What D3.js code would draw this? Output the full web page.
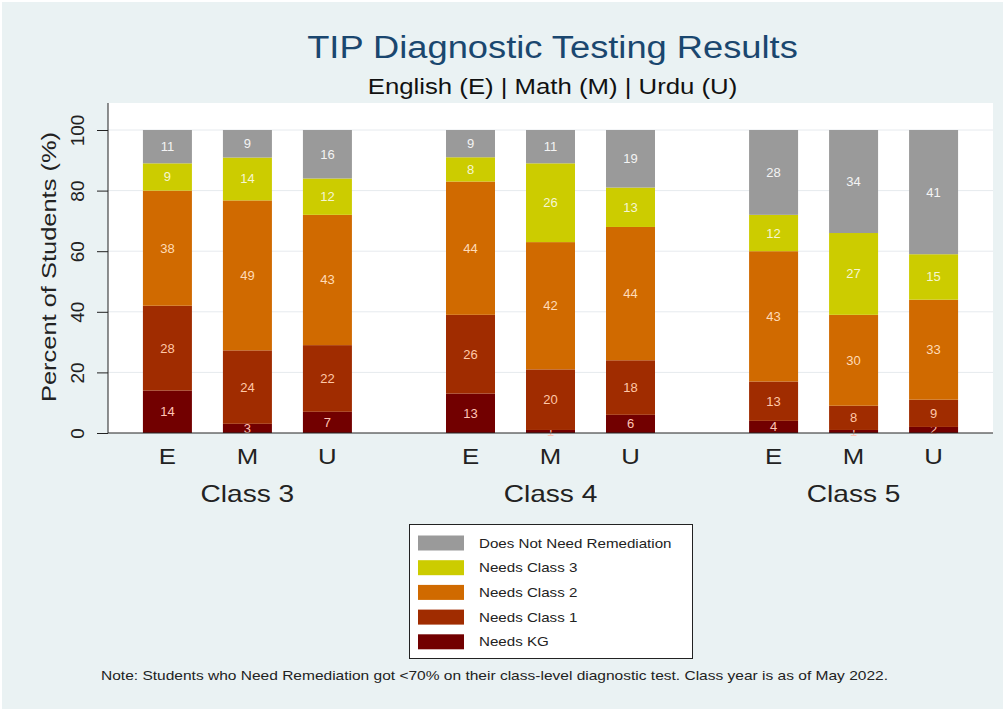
<!DOCTYPE html>
<html><head><meta charset="utf-8">
<script src="https://cdn.jsdelivr.net/npm/d3@7"></script>
<style>html,body{margin:0;padding:0;background:#fff;}svg{display:block;font-family:"Liberation Sans",Arial,sans-serif;}</style>
</head><body>
<script>
const classes = ["Class 3", "Class 4", "Class 5"];
const subjects = ["E", "M", "U"];
const seriesNames = ["Needs KG", "Needs Class 1", "Needs Class 2", "Needs Class 3", "Does Not Need Remediation"];
const seriesColors = ["#720000", "#a02c00", "#d06a00", "#cccc00", "#9a9a9a"];
const labelColors = ["#ffc4b4", "#ffc8a8", "#ffdcb8", "#f6f6d2", "#f4f4f4"];
// values per bar, in order Class3 E,M,U; Class4 E,M,U; Class5 E,M,U
const needsKG      = [14, 3, 7, 13, 1, 6, 4, 1, 2];
const needsClass1  = [28, 24, 22, 26, 20, 18, 13, 8, 9];
const needsClass2  = [38, 49, 43, 44, 42, 44, 43, 30, 33];
const needsClass3  = [9, 14, 12, 8, 26, 13, 12, 27, 15];
const doesNotNeed  = [11, 9, 16, 9, 11, 19, 28, 34, 41];
const yTicks = [0, 20, 40, 60, 80, 100];

const W = 1005, H = 711;
const plot = {left: 108, right: 993, top: 103, bottom: 433};
const STRETCH = 1.17;

function stretch(sel, f) {
  sel.each(function() {
    const len = this.getComputedTextLength();
    d3.select(this).attr("textLength", len * f).attr("lengthAdjust", "spacingAndGlyphs");
  });
}

const rows = [];
classes.forEach((c, ci) => subjects.forEach((s, si) => {
  const i = ci * 3 + si;
  rows.push({cls: c, subj: s, "Needs KG": needsKG[i], "Needs Class 1": needsClass1[i],
    "Needs Class 2": needsClass2[i], "Needs Class 3": needsClass3[i],
    "Does Not Need Remediation": doesNotNeed[i]});
}));
const stacked = d3.stack().keys(seriesNames).offset(d3.stackOffsetExpand)(rows);

const svg = d3.select("body").append("svg").attr("width", W).attr("height", H);
svg.append("rect").attr("width", W).attr("height", H).attr("fill", "#ffffff");
svg.append("rect").attr("x", 2).attr("y", 2).attr("width", W - 4).attr("height", H - 4).attr("fill", "#eaf2f3");
svg.append("rect").attr("x", plot.left).attr("y", plot.top).attr("width", plot.right - plot.left)
  .attr("height", plot.bottom - plot.top).attr("fill", "#ffffff");

const y = d3.scaleLinear().domain([0, 100]).range([plot.bottom, 130]);
const xClass = d3.scalePoint().domain(classes).range([plot.left, plot.right]).padding(0.46);
const xSub = d3.scalePoint().domain(subjects).range([-80, 80]);
const barW = 49;

// grid
svg.append("g").selectAll("line").data(yTicks.slice(1)).join("line")
  .attr("x1", plot.left).attr("x2", plot.right).attr("y1", d => y(d)).attr("y2", d => y(d))
  .attr("stroke", "#e6eaee").attr("stroke-width", 1);

// bars
const xc = d => xClass(d.data.cls) + xSub(d.data.subj);
stacked.forEach((layer, li) => {
  const g = svg.append("g");
  g.selectAll("rect").data(layer).join("rect")
    .attr("x", d => xc(d) - barW / 2).attr("width", barW)
    .attr("y", d => y(d[1] * 100)).attr("height", d => y(d[0] * 100) - y(d[1] * 100))
    .attr("fill", seriesColors[li]);
  g.selectAll("text").data(layer).join("text")
    .attr("x", d => xc(d)).attr("y", d => (y(d[0] * 100) + y(d[1] * 100)) / 2)
    .attr("text-anchor", "middle").attr("dominant-baseline", "central")
    .attr("font-size", 13).attr("fill", labelColors[li])
    .text(d => d.data[layer.key]);
});

// y axis
const yAxis = svg.append("g").attr("transform", `translate(${plot.left},0)`)
  .call(d3.axisLeft(y).tickValues(yTicks).tickSize(11).tickPadding(10).tickFormat(d3.format("d")));
yAxis.select(".domain").attr("d", `M0,${plot.top}V${plot.bottom}`).attr("stroke", "#222");
yAxis.selectAll(".tick line").attr("stroke", "#222");
yAxis.selectAll(".tick text").attr("font-size", 19).attr("fill", "#222")
  .attr("font-family", "Liberation Sans, Arial, sans-serif")
  .attr("x", 0).attr("y", 0).attr("dy", null).attr("text-anchor", "middle")
  .attr("transform", "translate(-24,0) rotate(-90)");

svg.append("text").attr("transform", `translate(56,${267}) rotate(-90)`)
  .attr("text-anchor", "middle").attr("font-size", 21).attr("fill", "#222")
  .attr("textLength", 270).attr("lengthAdjust", "spacingAndGlyphs")
  .text("Percent of Students (%)");

// x axis
svg.append("line").attr("x1", plot.left).attr("x2", plot.right).attr("y1", plot.bottom).attr("y2", plot.bottom)
  .attr("stroke", "#222");
classes.forEach(c => {
  subjects.forEach(s => {
    svg.append("text").attr("class", "st").attr("x", xClass(c) + xSub(s)).attr("y", 464)
      .attr("text-anchor", "middle").attr("font-size", 22).attr("fill", "#222").text(s);
  });
  svg.append("text").attr("class", "st").attr("x", xClass(c)).attr("y", 502)
    .attr("text-anchor", "middle").attr("font-size", 24).attr("fill", "#222").text(c);
});

// titles
const cx = (plot.left + plot.right) / 2;
svg.append("text").attr("class", "st").attr("x", cx + 2).attr("y", 58).attr("text-anchor", "middle")
  .attr("font-size", 31).attr("fill", "#1a476f").text("TIP Diagnostic Testing Results");
svg.append("text").attr("class", "st").attr("x", cx + 2).attr("y", 94).attr("text-anchor", "middle")
  .attr("font-size", 22).attr("fill", "#111").text("English (E) | Math (M) | Urdu (U)");

// legend
const leg = svg.append("g");
leg.append("rect").attr("x", 409.5).attr("y", 524.5).attr("width", 283).attr("height", 134)
  .attr("fill", "#ffffff").attr("stroke", "#222");
const legOrder = seriesNames.slice().reverse();
legOrder.forEach((name, i) => {
  const idx = seriesNames.indexOf(name);
  const cy = 543 + i * 24.7;
  leg.append("rect").attr("x", 418).attr("y", cy - 7.5).attr("width", 46).attr("height", 15)
    .attr("fill", seriesColors[idx]);
  leg.append("text").attr("class", "lg").attr("x", 479).attr("y", cy).attr("dominant-baseline", "central")
    .attr("font-size", 13.5).attr("fill", "#222").text(name);
});

svg.append("text").attr("x", 101).attr("y", 680).attr("font-size", 13).attr("fill", "#222")
  .attr("textLength", 787).attr("lengthAdjust", "spacingAndGlyphs")
  .text("Note: Students who Need Remediation got <70% on their class-level diagnostic test. Class year is as of May 2022.");

stretch(svg.selectAll("text.st"), STRETCH);
stretch(svg.selectAll("text.lg"), 1.12);
</script>
</body></html>
